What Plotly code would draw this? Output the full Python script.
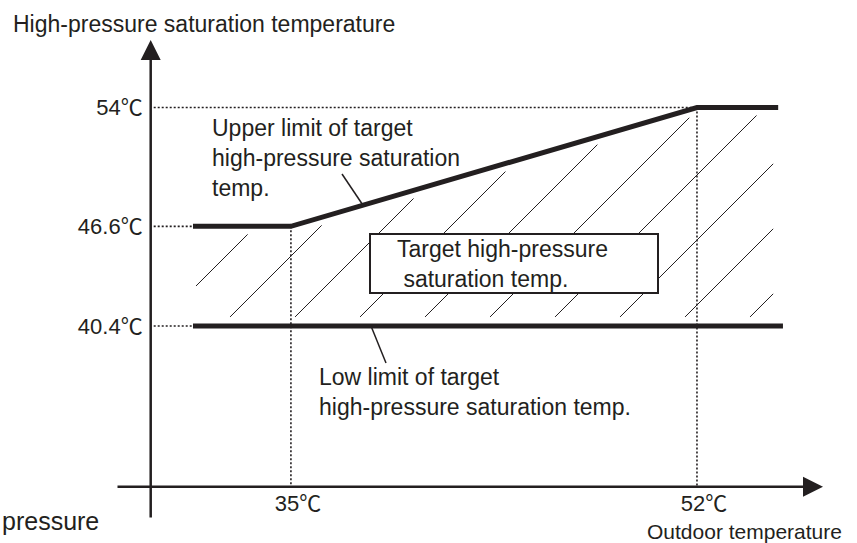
import numpy as np
import plotly.graph_objects as go

# ---- data -------------------------------------------------------------
outdoor_ticks = [35, 52]
outdoor_tick_text = ["35℃", "52℃"]
sat_ticks = [40.4, 46.6, 54]
sat_tick_text = ["40.4℃", "46.6℃", "54℃"]

upper_x = [30.9, 35, 52, 55.4]      # outdoor temperature (℃)
upper_y = [46.6, 46.6, 54, 54]      # upper limit of target HP saturation temp (℃)
lower_x = [30.9, 55.6]
lower_y = [40.4, 40.4]              # low limit of target HP saturation temp (℃)

# ---- canvas / scales ---------------------------------------------------
W, H = 857, 543
X_RANGE = [22.82, 58.70]
Y_RANGE = [26.89, 60.69]
INK = "#231f20"
FONT = "Liberation Sans, Arial, Noto Sans CJK JP, sans-serif"


def px_x(v):
    return (v - X_RANGE[0]) / (X_RANGE[1] - X_RANGE[0]) * W


def px_y(v):
    return H - (v - Y_RANGE[0]) / (Y_RANGE[1] - Y_RANGE[0]) * H


def dx(p):
    return X_RANGE[0] + p / W * (X_RANGE[1] - X_RANGE[0])


def dy(p):
    return Y_RANGE[0] + (H - p) / H * (Y_RANGE[1] - Y_RANGE[0])


AXIS_X_PX = 150.7   # vertical axis position
AXIS_Y_PX = 486.7   # horizontal axis position

fig = go.Figure()

# ---- hatching of the target band (45° strokes, inset from the limits) ---
ux = np.array([px_x(v) for v in upper_x])
uy = np.array([px_y(v) for v in upper_y])
left = px_x(lower_x[0]) + 3
right = px_x(upper_x[-1]) - 5
bottom = px_y(lower_y[0]) - 9
top_gap = 8
spacing = 65
phase = 27


def g(c, x):
    return c - x - (np.interp(x, ux, uy) + top_gap)


hx, hy = [], []
for k in range(0, 40):
    c = phase + spacing * k
    x_lo = max(left, c - bottom)
    if g(c, left) < 0:
        continue
    if g(c, right) >= 0:
        x_hi = right
    else:
        a, b = left, right
        for _ in range(60):
            m = 0.5 * (a + b)
            if g(c, m) >= 0:
                a = m
            else:
                b = m
        x_hi = a
    if x_hi - x_lo < 1:
        continue
    hx += [dx(x_lo), dx(x_hi), None]
    hy += [dy(c - x_lo), dy(c - x_hi), None]

fig.add_trace(go.Scatter(x=hx, y=hy, mode="lines", line=dict(color=INK, width=1),
                         hoverinfo="skip", showlegend=False))

# ---- dotted guide lines --------------------------------------------------
dot = dict(color=INK, width=1.6, dash="2px,2px")
guide_start = dx(AXIS_X_PX + 3)
axis_y = dy(AXIS_Y_PX)
guides_x = [guide_start, upper_x[0], None,
            guide_start, upper_x[2], None,
            guide_start, lower_x[0], None,
            outdoor_ticks[0], outdoor_ticks[0], None,
            outdoor_ticks[1], outdoor_ticks[1], None]
guides_y = [upper_y[0], upper_y[0], None,
            upper_y[2], upper_y[2], None,
            lower_y[0], lower_y[0], None,
            upper_y[1], axis_y, None,
            upper_y[2], axis_y, None]
fig.add_trace(go.Scatter(x=guides_x, y=guides_y, mode="lines", line=dot,
                         hoverinfo="skip", showlegend=False))

# ---- limit lines ---------------------------------------------------------
fig.add_trace(go.Scatter(x=upper_x, y=upper_y, mode="lines",
                         line=dict(color=INK, width=5), hoverinfo="skip", showlegend=False))
fig.add_trace(go.Scatter(x=lower_x, y=lower_y, mode="lines",
                         line=dict(color=INK, width=5), hoverinfo="skip", showlegend=False))

# ---- leader lines and label box -----------------------------------------
up_leader_x = dx(363)
up_leader_y = float(np.interp(up_leader_x, upper_x, upper_y))
shapes = [
    dict(type="line", xref="x", yref="y", x0=dx(342), y0=dy(174),
         x1=up_leader_x, y1=up_leader_y, line=dict(color=INK, width=1.5)),
    dict(type="line", xref="x", yref="y", x0=dx(371), y0=lower_y[0],
         x1=dx(386), y1=dy(363), line=dict(color=INK, width=1.5)),
    dict(type="rect", xref="x", yref="y", x0=dx(370), y0=dy(234), x1=dx(658), y1=dy(293),
         fillcolor="white", line=dict(color=INK, width=2), layer="above"),
]

# ---- axes arrows and text -----------------------------------------------
arrow = dict(xref="x", yref="y", axref="x", ayref="y", showarrow=True, text="",
             arrowhead=2, arrowsize=1.6, arrowwidth=2.5, arrowcolor=INK, standoff=0)
annotations = [
    dict(arrow, x=dx(823), y=axis_y, ax=dx(116), ay=axis_y),
    dict(arrow, x=dx(AXIS_X_PX), y=dy(40), ax=dx(AXIS_X_PX), ay=dy(519)),
]


def label(text, x, y, size=23, xanchor="left", yanchor="middle"):
    return dict(text=text, xref="paper", yref="paper", x=x / W, y=1 - y / H,
                xanchor=xanchor, yanchor=yanchor, showarrow=False, align="left",
                font=dict(family=FONT, size=size, color=INK))


annotations += [
    label("High-pressure saturation temperature", 11, 24),
    label("Upper limit of target<br>high-pressure saturation<br>temp.", 210, 158),
    label("Target high-pressure<br> saturation temp.", 395, 263.5),
    label("Low limit of target<br>high-pressure saturation temp.", 317, 392),
    label("Outdoor temperature", 645, 531, size=21),
    label("pressure", 0, 521, size=25),
]

tickfont = dict(family=FONT, size=22, color=INK)
fig.update_layout(
    width=W, height=H,
    margin=dict(l=0, r=0, t=0, b=0),
    paper_bgcolor="white", plot_bgcolor="white",
    showlegend=False,
    xaxis=dict(range=X_RANGE, showgrid=False, zeroline=False, showline=False,
               tickvals=outdoor_ticks, ticktext=outdoor_tick_text, ticks="",
               anchor="free", position=(H - AXIS_Y_PX) / H, tickfont=tickfont,
               ticklabelstandoff=1, ticklabelshift=7, fixedrange=True),
    yaxis=dict(range=Y_RANGE, showgrid=False, zeroline=False, showline=False,
               tickvals=sat_ticks, ticktext=sat_tick_text, ticks="",
               anchor="free", position=AXIS_X_PX / W, tickfont=tickfont,
               ticklabelstandoff=8, fixedrange=True),
    shapes=shapes,
    annotations=annotations,
)

fig.write_html("out.html")
